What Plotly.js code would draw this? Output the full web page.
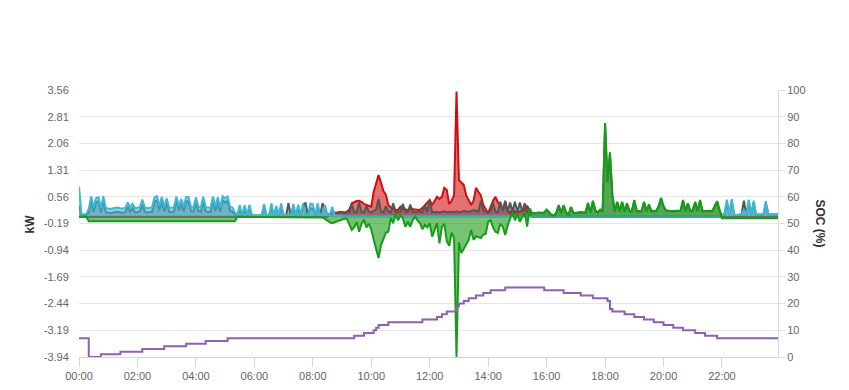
<!DOCTYPE html>
<html>
<head>
<meta charset="utf-8">
<script src="https://cdn.plot.ly/plotly-3.0.1.min.js"></script>
<style>
  html, body { margin: 0; padding: 0; background: #ffffff; }
  #chart { width: 849px; height: 390px; }
</style>
</head>
<body>
<div id="chart"></div>
<script>
// ---- Data (5-minute samples, one row per hour, 00:00 .. 23:55) ----
const DAY = '2024-05-01';
const STEP_MIN = 5;

// Grid import (kW) - cyan
const gridKw = [
  0.85,0.08,0.07,0.08,0.22,0.57,0.26,0.52,0.55,0.24,0.58,0.25,
  0.23,0.22,0.24,0.25,0.26,0.24,0.23,0.25,0.40,0.26,0.36,0.24,
  0.25,0.27,0.48,0.26,0.24,0.25,0.26,0.55,0.58,0.30,0.56,0.27,
  0.52,0.26,0.25,0.27,0.57,0.30,0.50,0.27,0.56,0.55,0.27,0.26,
  0.54,0.28,0.26,0.56,0.27,0.26,0.25,0.57,0.28,0.55,0.26,0.58,
  0.52,0.57,0.28,0.26,0.12,0.05,0.33,0.04,0.32,0.05,0.34,0.04,
  0.03,0.04,0.03,0.05,0.36,0.04,0.03,0.37,0.05,0.30,0.04,0.37,
  0.05,0.04,0.06,0.04,0.36,0.05,0.34,0.04,0.38,0.05,0.04,0.37,
  0.35,0.04,0.38,0.05,0.04,0.33,0.04,0.05,0.28,0.03,0.02,0.02,
  0.01,0.01,0.01,0.01,0.01,0.01,0.01,0.01,0.01,0.01,0.01,0.01,
  0.01,0.01,0.01,0.01,0.01,0.01,0.01,0.01,0.01,0.01,0.01,0.01,
  0.01,0.01,0.01,0.01,0.01,0.01,0.01,0.01,0.01,0.01,0.01,0.01,
  0.01,0.01,0.01,0.01,0.01,0.01,0.01,0.01,0.01,0.01,0.01,0.01,
  0.01,0.01,0.01,0.01,0.01,0.01,0.01,0.01,0.01,0.01,0.01,0.01,
  0.01,0.01,0.01,0.01,0.01,0.01,0.01,0.01,0.01,0.01,0.01,0.01,
  0.01,0.01,0.01,0.01,0.01,0.01,0.01,0.01,0.01,0.01,0.01,0.01,
  0.01,0.01,0.01,0.01,0.01,0.01,0.01,0.01,0.01,0.01,0.01,0.01,
  0.01,0.01,0.01,0.01,0.01,0.01,0.01,0.01,0.01,0.01,0.01,0.01,
  0.01,0.01,0.01,0.01,0.01,0.01,0.01,0.01,0.01,0.01,0.01,0.01,
  0.01,0.01,0.01,0.01,0.01,0.01,0.01,0.01,0.01,0.01,0.01,0.01,
  0.01,0.01,0.01,0.01,0.01,0.01,0.01,0.01,0.01,0.01,0.01,0.01,
  0.01,0.01,0.01,0.01,0.01,0.01,0.01,0.01,0.01,0.01,0.01,0.01,
  0.05,0.08,0.48,0.07,0.50,0.06,0.05,0.06,0.07,0.20,0.06,0.48,
  0.07,0.45,0.06,0.07,0.08,0.07,0.44,0.08,0.07,0.07,0.08,0.07
];

// House load (kW) - dark gray
const loadKw = [
  0.30,0.05,0.05,0.06,0.10,0.45,0.14,0.40,0.43,0.12,0.46,0.13,
  0.11,0.10,0.12,0.13,0.14,0.12,0.11,0.13,0.28,0.14,0.24,0.12,
  0.13,0.15,0.36,0.14,0.12,0.13,0.14,0.43,0.46,0.18,0.44,0.15,
  0.40,0.14,0.13,0.15,0.45,0.18,0.38,0.15,0.44,0.43,0.15,0.14,
  0.42,0.16,0.14,0.44,0.15,0.14,0.13,0.45,0.16,0.43,0.14,0.46,
  0.40,0.45,0.16,0.14,0.06,0.04,0.20,0.03,0.18,0.04,0.22,0.03,
  0.03,0.03,0.03,0.04,0.22,0.03,0.03,0.25,0.04,0.20,0.03,0.24,
  0.04,0.03,0.38,0.03,0.24,0.04,0.22,0.03,0.25,0.40,0.03,0.24,
  0.22,0.03,0.25,0.04,0.38,0.22,0.05,0.08,0.15,0.10,0.12,0.14,
  0.12,0.10,0.14,0.12,0.35,0.14,0.12,0.40,0.13,0.12,0.30,0.14,
  0.12,0.15,0.20,0.50,0.14,0.12,0.30,0.14,0.12,0.38,0.13,0.12,
  0.14,0.36,0.13,0.12,0.34,0.14,0.12,0.13,0.14,0.12,0.33,0.13,
  0.45,0.12,0.13,0.14,0.12,0.13,0.15,0.12,0.14,0.13,0.12,0.15,
  0.13,0.14,0.16,0.15,0.14,0.16,0.18,0.17,0.15,0.45,0.16,0.14,
  0.12,0.15,0.40,0.14,0.13,0.42,0.16,0.45,0.14,0.40,0.15,0.42,
  0.13,0.40,0.15,0.38,0.14,0.20,0.10,0.10,0.12,0.12,0.10,0.12,
  0.18,0.11,0.05,0.03,0.11,0.30,0.10,0.31,0.11,0.05,0.26,0.10,
  0.11,0.11,0.12,0.11,0.11,0.36,0.11,0.42,0.17,0.11,0.19,0.14,
  2.58,0.96,1.76,0.57,0.15,0.40,0.15,0.40,0.14,0.36,0.15,0.15,
  0.44,0.15,0.14,0.15,0.40,0.15,0.33,0.15,0.16,0.15,0.28,0.50,
  0.28,0.17,0.16,0.15,0.15,0.16,0.15,0.16,0.44,0.15,0.36,0.15,
  0.17,0.40,0.15,0.44,0.15,0.16,0.15,0.16,0.15,0.28,0.42,0.15,
  0.04,0.06,0.40,0.06,0.42,0.05,0.04,0.05,0.06,0.45,0.05,0.40,
  0.06,0.38,0.05,0.06,0.07,0.06,0.38,0.07,0.06,0.06,0.07,0.06
];

// PV production (kW) - red
const pvKw = [
  0,0,0,0,0,0,0,0,0,0,0,0,
  0,0,0,0,0,0,0,0,0,0,0,0,
  0,0,0,0,0,0,0,0,0,0,0,0,
  0,0,0,0,0,0,0,0,0,0,0,0,
  0,0,0,0,0,0,0,0,0,0,0,0,
  0,0,0,0,0,0,0,0,0,0,0,0,
  0,0,0,0,0,0,0,0,0,0,0,0,
  0,0,0,0,0,0,0,0,0,0,0,0,
  0,0,0,0,0,0,0,0.08,0.10,0.12,0.10,0.13,
  0.13,0.12,0.14,0.20,0.38,0.42,0.44,0.45,0.42,0.36,0.33,0.30,
  0.28,0.70,0.92,1.17,0.95,0.72,0.62,0.33,0.26,0.22,0.19,0.19,
  0.28,0.22,0.20,0.19,0.21,0.22,0.20,0.19,0.19,0.25,0.33,0.42,
  0.47,0.33,0.45,0.56,0.50,0.56,0.81,0.75,0.35,0.45,0.61,3.52,
  1.03,0.95,0.89,0.60,0.45,0.33,0.45,0.81,0.70,0.60,0.33,0.20,
  0.10,0.28,0.45,0.56,0.40,0.33,0.20,0.42,0.15,0.10,0.24,0.12,
  0.15,0.14,0.18,0.20,0.31,0.15,0,0,0,0,0,0,
  0,0,0,0,0,0,0,0,0,0,0,0,
  0,0,0,0,0,0,0,0,0,0,0,0,
  0,0,0,0,0,0,0,0,0,0,0,0,
  0,0,0,0,0,0,0,0,0,0,0,0,
  0,0,0,0,0,0,0,0,0,0,0,0,
  0,0,0,0,0,0,0,0,0,0,0,0,
  0,0,0,0,0,0,0,0,0,0,0,0,
  0,0,0,0,0,0,0,0,0,0,0,0
];

// Battery power (kW, + discharge / - charge) - green
const batteryKw = [
  0,0,0,0,-0.13,-0.13,-0.13,-0.13,-0.13,-0.13,-0.13,-0.13,
  -0.13,-0.13,-0.13,-0.13,-0.13,-0.13,-0.13,-0.13,-0.13,-0.13,-0.13,-0.13,
  -0.13,-0.13,-0.13,-0.13,-0.13,-0.13,-0.13,-0.13,-0.13,-0.13,-0.13,-0.13,
  -0.13,-0.13,-0.13,-0.13,-0.13,-0.13,-0.13,-0.13,-0.13,-0.13,-0.13,-0.13,
  -0.13,-0.13,-0.13,-0.13,-0.13,-0.13,-0.13,-0.13,-0.13,-0.13,-0.13,-0.13,
  -0.13,-0.13,-0.13,-0.13,-0.13,0,0,0,0,0,0,0,
  0,0,0,0,0,0,0,0,0,0,0,0,
  0,0,0,0,0,0,0,0,0,0,0,0,
  0,0,0,0,-0.02,-0.06,-0.12,-0.16,-0.18,-0.15,-0.12,-0.10,
  -0.08,-0.05,-0.06,-0.20,-0.37,-0.30,-0.15,-0.42,-0.20,-0.08,-0.30,-0.20,
  -0.35,-0.65,-0.95,-1.16,-0.80,-0.65,-0.45,-0.42,-0.04,-0.18,0.08,-0.10,
  0.05,-0.05,-0.28,-0.15,-0.28,-0.10,0.00,-0.10,-0.18,-0.35,-0.23,-0.30,
  -0.18,-0.56,-0.35,-0.18,-0.75,-0.28,-0.20,-0.68,-0.82,-0.45,-0.60,-3.94,
  -0.72,-1.02,-0.90,-0.75,-0.65,-0.37,-0.65,-0.55,-0.58,-0.60,-0.50,-0.48,
  -0.14,-0.10,-0.30,-0.42,-0.45,-0.20,-0.28,-0.51,-0.25,-0.04,0.14,-0.10,
  0.08,-0.14,0.00,0.14,-0.28,0.24,0.10,0.10,0.12,0.12,0.10,0.12,
  0.20,0.12,0.05,0.02,0.12,0.33,0.10,0.33,0.12,0.05,0.28,0.10,
  0.12,0.12,0.13,0.12,0.12,0.39,0.12,0.45,0.18,0.12,0.20,0.15,
  2.63,0.99,1.81,0.60,0.16,0.42,0.16,0.42,0.15,0.38,0.16,0.16,
  0.47,0.16,0.15,0.16,0.42,0.16,0.35,0.16,0.17,0.16,0.30,0.53,
  0.30,0.18,0.17,0.16,0.16,0.17,0.16,0.17,0.47,0.16,0.38,0.16,
  0.18,0.42,0.16,0.47,0.16,0.17,0.16,0.17,0.16,0.30,0.44,0.20,
  -0.04,-0.04,-0.04,-0.04,-0.04,-0.04,-0.04,-0.04,-0.04,-0.04,-0.04,-0.04,
  -0.04,-0.04,-0.04,-0.04,-0.04,-0.04,-0.04,-0.04,-0.04,-0.04,-0.04,-0.04
];

// Battery state of charge (%) at the times it changes
const socTimes = [
  '00:00','00:20','00:45','01:25','02:10','02:55','03:40','04:20','05:05',
  '09:25','09:45','10:05','10:10','10:15','10:35','11:45','12:15','12:25','12:35',
  '12:55','13:00','13:10','13:20','13:35','13:50','14:05','14:35',
  '15:55','16:35','17:10','17:35','18:05','18:10','18:15','18:40','19:00','19:20',
  '19:40','20:00','20:20','20:40','21:05','21:25','21:50','23:55'
];
const socValues = [
  7,0,1,2,3,4,5,6,7,
  8,9,10,11,12,13,14,15,16,17,
  19,20,21,22,23,24,25,26,
  25,24,23,22,21,18,17,16,15,14,
  13,12,11,10,9,8,7,7
];

// Axis tick labels
const kwTicks = [-3.94,-3.19,-2.44,-1.69,-0.94,-0.19,0.56,1.31,2.06,2.81,3.56];
const socTicks = [0,10,20,30,40,50,60,70,80,90,100];
const xTickLabels = ['00:00','02:00','04:00','06:00','08:00','10:00','12:00','14:00','16:00','18:00','20:00','22:00'];

// ---- Build ----
function pad(n){ return (n < 10 ? '0' : '') + n; }
const times = gridKw.map((_, i) => {
  const m = i * STEP_MIN;
  return DAY + ' ' + pad(Math.floor(m / 60)) + ':' + pad(m % 60);
});
const socX = socTimes.map(t => DAY + ' ' + t);

const FONT = 'Liberation Sans, Arial, Helvetica, sans-serif';

function area(y, line, fill) {
  return {
    x: times, y: y, type: 'scatter', mode: 'lines',
    line: { color: line, width: 2 },
    fill: 'tozeroy', fillcolor: fill,
    hoverinfo: 'skip'
  };
}

const traces = [
  area(pvKw, '#cc1010', 'rgba(210,20,20,0.6)'),
  area(loadKw, '#555555', 'rgba(80,80,80,0.45)'),
  area(gridKw, '#3bb9d5', 'rgba(60,185,215,0.6)'),
  area(batteryKw, '#169c16', 'rgba(30,160,30,0.62)'),
  {
    x: socX, y: socValues, type: 'scatter', mode: 'lines', yaxis: 'y2',
    line: { color: '#8e60b4', width: 2, shape: 'hv' },
    hoverinfo: 'skip'
  }
];

const layout = {
  width: 849, height: 390,
  margin: { l: 79, r: 71, t: 90, b: 33 },
  paper_bgcolor: '#ffffff', plot_bgcolor: '#ffffff',
  showlegend: false,
  hovermode: false,
  font: { family: FONT, size: 11, color: '#666666' },
  xaxis: {
    type: 'date',
    range: [DAY + ' 00:00', DAY + ' 23:55'],
    tickvals: xTickLabels.map(t => DAY + ' ' + t),
    ticktext: xTickLabels,
    showgrid: false, zeroline: false,
    showline: true, linecolor: '#ccd6eb', linewidth: 1,
    ticks: 'outside', ticklen: 9, tickcolor: '#ccd6eb', tickwidth: 1,
    tickfont: { family: FONT, size: 11, color: '#666666' }
  },
  yaxis: {
    range: [-3.94, 3.56],
    tickvals: kwTicks,
    ticktext: kwTicks.map(v => v.toFixed(2)),
    showgrid: true, gridcolor: '#e6e6e6', gridwidth: 1,
    zeroline: false, showline: false,
    ticks: 'outside', ticklen: 7, tickcolor: 'rgba(0,0,0,0)',
    tickfont: { family: FONT, size: 11, color: '#666666' }
  },
  yaxis2: {
    overlaying: 'y', side: 'right', anchor: 'x',
    range: [0, 100],
    tickvals: socTicks,
    ticktext: socTicks.map(String),
    showgrid: false, zeroline: false,
    showline: true, linecolor: '#dcdcdc', linewidth: 1,
    ticks: 'outside', ticklen: 6, tickcolor: '#e0e0e0',
    tickfont: { family: FONT, size: 11, color: '#666666' }
  },
  annotations: [
    {
      text: '<b>kW</b>', xref: 'paper', yref: 'paper',
      x: (29 - 79) / 699, y: 0.5, xanchor: 'center', yanchor: 'middle',
      textangle: -90, showarrow: false,
      font: { family: FONT, size: 12, color: '#333333' }
    },
    {
      text: '<b>SOC (%)</b>', xref: 'paper', yref: 'paper',
      x: (820 - 79) / 699, y: 0.5, xanchor: 'center', yanchor: 'middle',
      textangle: 90, showarrow: false,
      font: { family: FONT, size: 12, color: '#333333' }
    }
  ]
};

Plotly.newPlot('chart', traces, layout, { displayModeBar: false, staticPlot: true });
</script>
</body>
</html>
